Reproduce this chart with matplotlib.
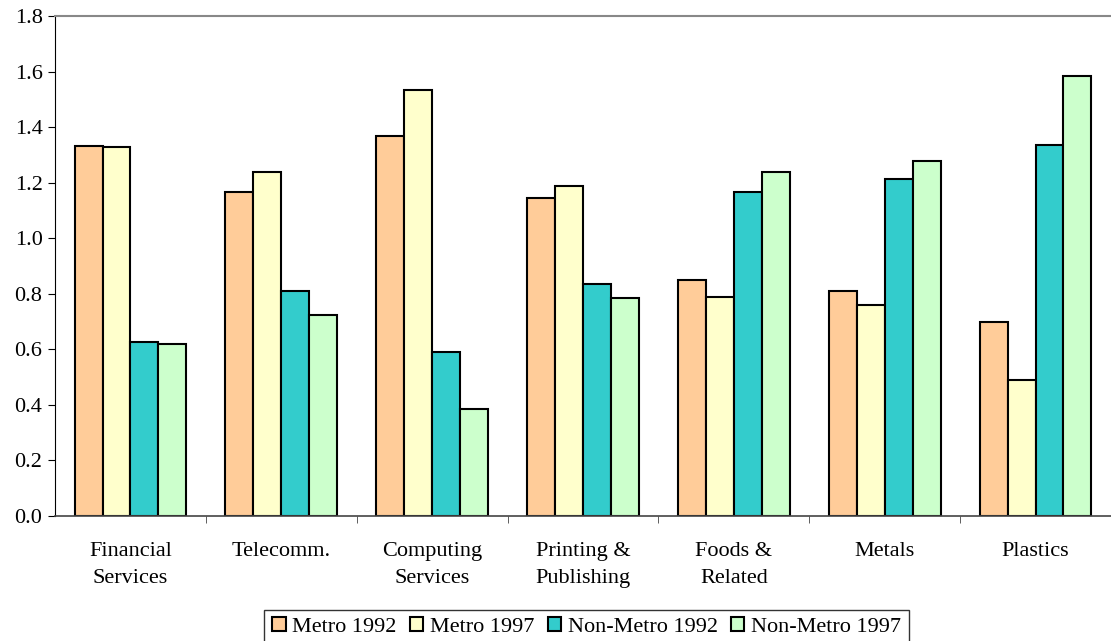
import matplotlib.pyplot as plt
import numpy as np

categories = ['Financial\nServices', 'Telecomm.', 'Computing\nServices', 'Printing &\nPublishing',
              'Foods &\nRelated', 'Metals', 'Plastics']
series_names = ['Metro 1992', 'Metro 1997', 'Non-Metro 1992', 'Non-Metro 1997']
metro_1992 = [1.333, 1.167, 1.368, 1.146, 0.848, 0.810, 0.698]
metro_1997 = [1.330, 1.237, 1.533, 1.187, 0.790, 0.758, 0.490]
nonmetro_1992 = [0.627, 0.810, 0.590, 0.835, 1.167, 1.213, 1.335]
nonmetro_1997 = [0.620, 0.725, 0.386, 0.785, 1.238, 1.277, 1.585]
colors = ['#FFCC99', '#FFFFCC', '#33CCCC', '#CCFFCC']

plt.rcParams['font.family'] = ['Liberation Serif', 'DejaVu Serif']

fig = plt.figure(figsize=(11.11, 6.41), dpi=100)
ax = fig.add_axes([0.0495, 0.195, 0.9505, 0.78])

x = np.arange(len(categories))
w = 0.185
all_series = [metro_1992, metro_1997, nonmetro_1992, nonmetro_1997]
handles = []
for i, vals in enumerate(all_series):
    b = ax.bar(x + (i - 1.5) * w, vals, w, color=colors[i], edgecolor='black',
               linewidth=1.5, label=series_names[i])
    handles.append(b)

ax.set_xlim(-0.5, len(categories) - 0.5)
ax.set_ylim(0, 1.8)
ax.set_yticks(np.arange(0, 1.81, 0.2))
ax.set_yticklabels([f'{v:.1f}' for v in np.arange(0, 1.81, 0.2)], fontsize=16)
ax.set_xticks(x)
ax.set_xticklabels(categories, fontsize=16, linespacing=1.55)
ax.tick_params(axis='x', which='major', length=0, pad=19)
ax.set_xticks(np.arange(0.5, len(categories) - 0.5, 1), minor=True)
ax.tick_params(axis='x', which='minor', length=5, color='#444444')
ax.tick_params(axis='y', length=5, direction='out', pad=4)

ax.spines['right'].set_visible(False)
ax.spines['top'].set_color('#888888')
ax.spines['top'].set_linewidth(1.5)
ax.spines['left'].set_color('black')
ax.spines['bottom'].set_color('#444444')
ax.spines['bottom'].set_linewidth(1.2)

leg = fig.legend(handles=handles, loc='upper center', bbox_to_anchor=(0.528, 0.049), ncol=4,
                 fontsize=16, frameon=True, fancybox=False, edgecolor='black',
                 handlelength=0.6, handleheight=0.6, handletextpad=0.3, columnspacing=0.6,
                 borderpad=0.35, borderaxespad=0.0)
leg.get_frame().set_linewidth(1.0)

plt.savefig('out.png', dpi=100)
plt.close()
